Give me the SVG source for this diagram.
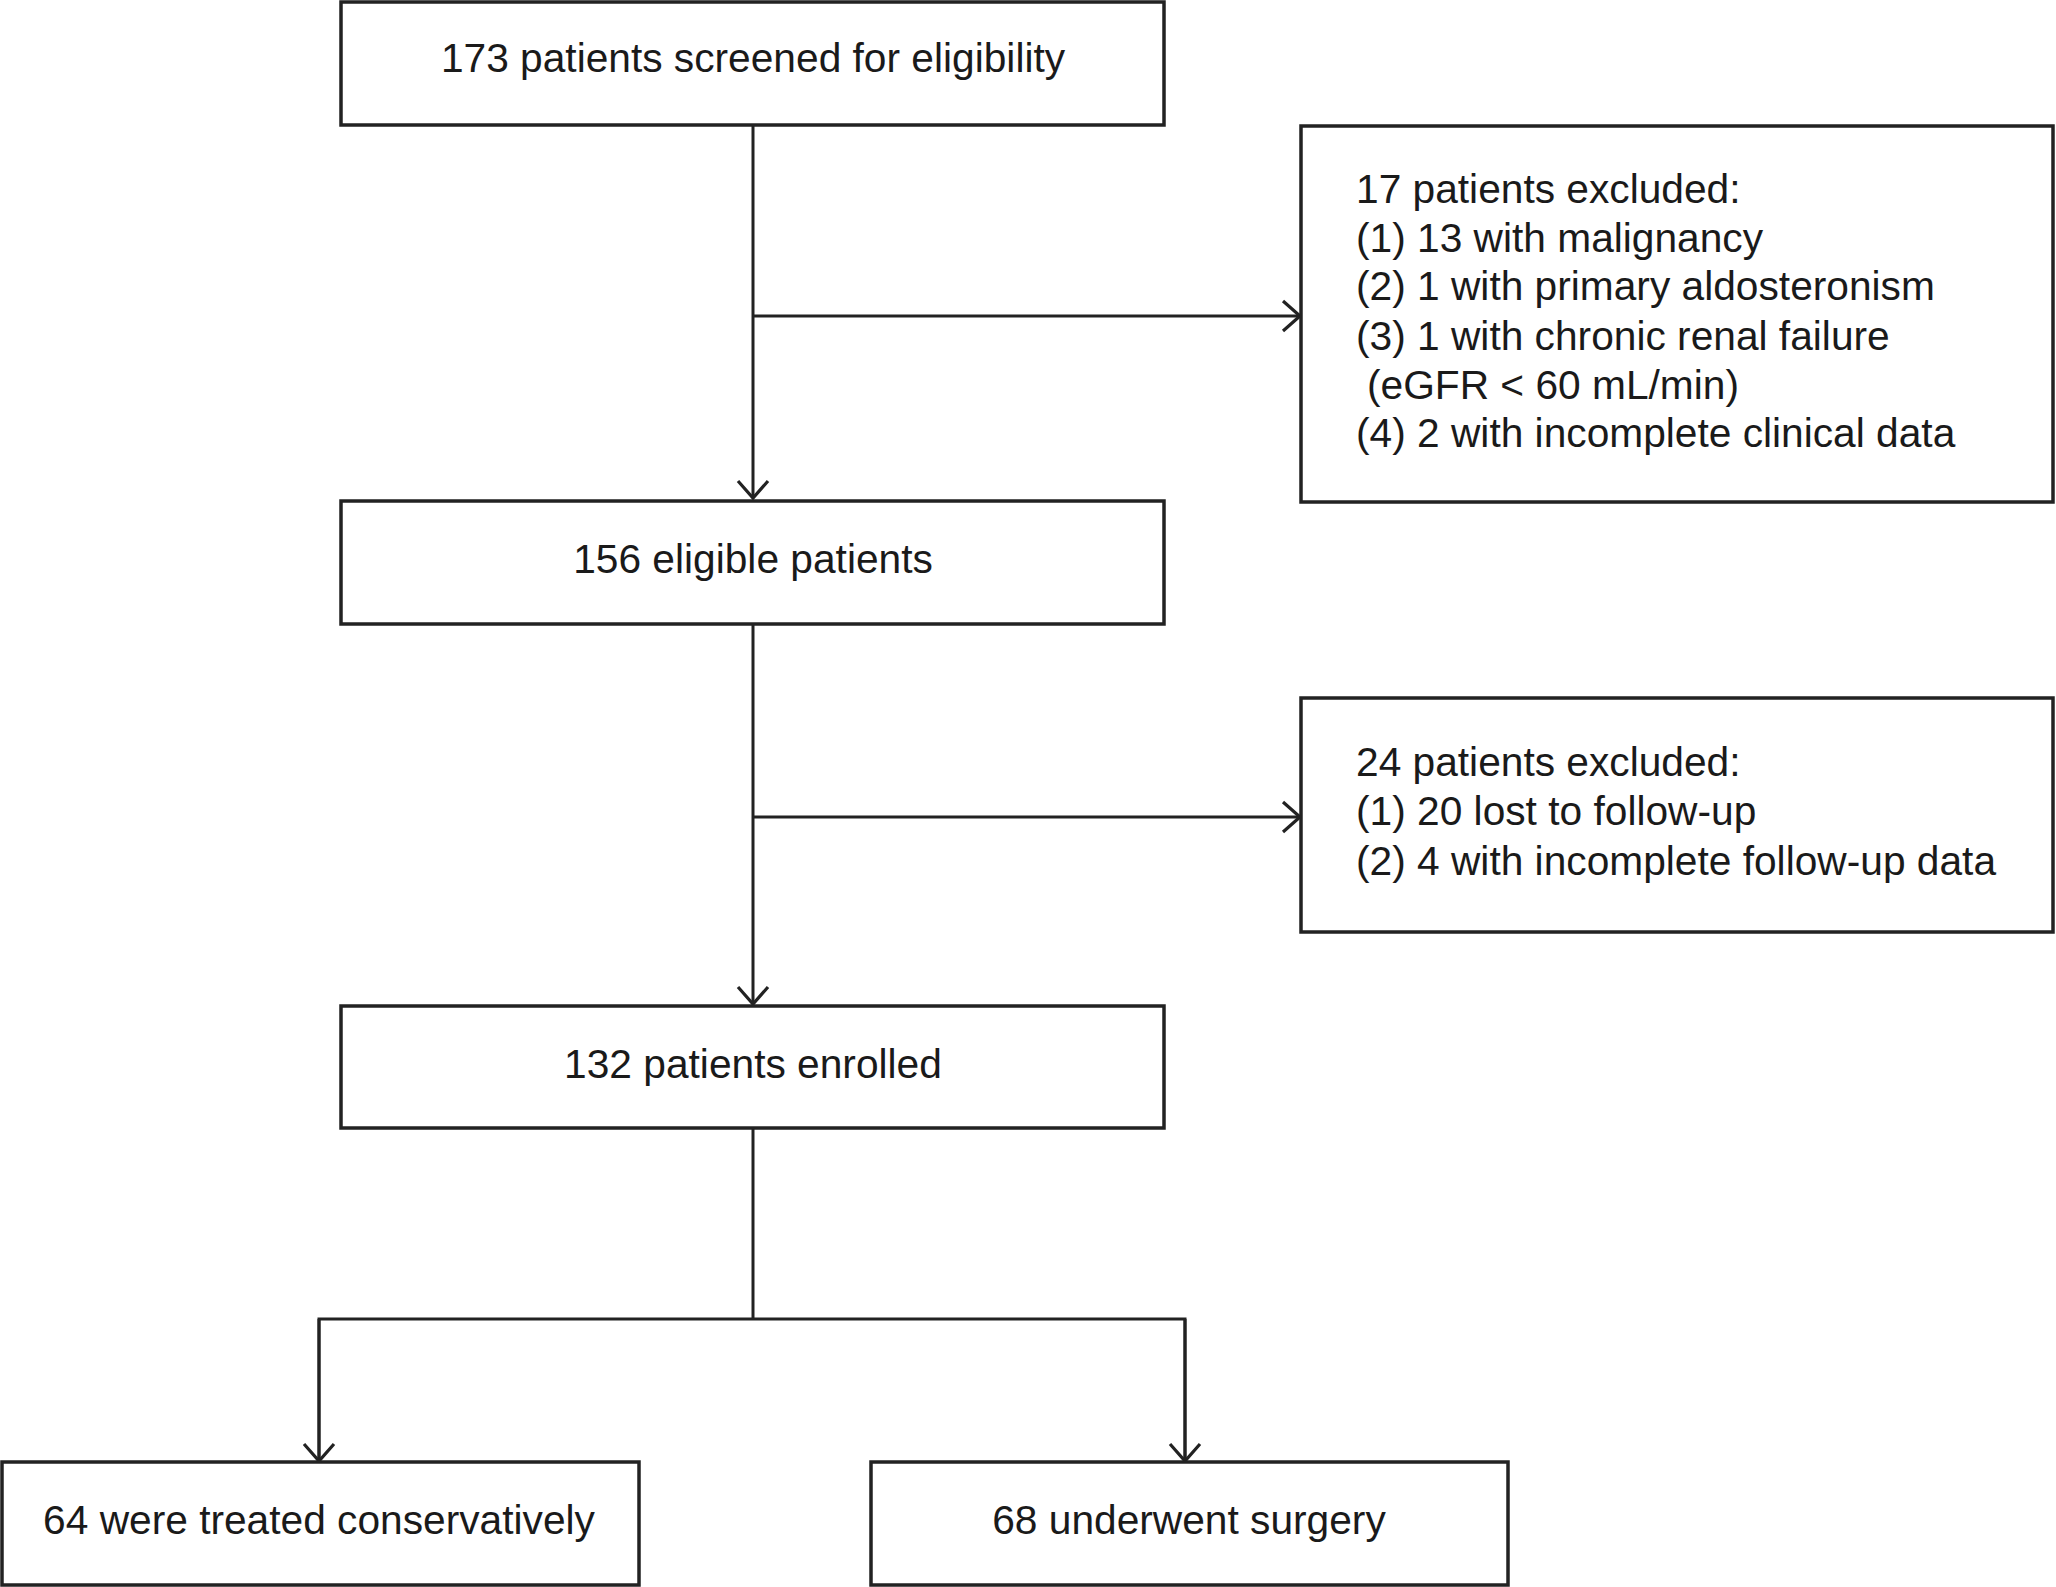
<svg xmlns="http://www.w3.org/2000/svg" width="2056" height="1587" viewBox="0 0 2056 1587">
<style>
.box{fill:#fff;stroke:#222;stroke-width:3.5}
.t{font-family:"Liberation Sans",Arial,sans-serif;font-size:40.7px;fill:#1a1a1a}
.c{text-anchor:middle}
.ln{fill:none;stroke:#222;stroke-width:3}
</style>
<defs>
<marker id="ah" markerUnits="userSpaceOnUse" markerWidth="40" markerHeight="40" viewBox="-20 -20 40 40" refX="0" refY="0" orient="auto">
<polyline points="-17,-15 0,0 -17,15" fill="none" stroke="#222" stroke-width="3.2"/>
</marker>
</defs>
<rect width="2056" height="1587" fill="#fff"/>
<g id="connectors">
<line class="ln" x1="753" y1="125" x2="753" y2="498" marker-end="url(#ah)"/>
<line class="ln" x1="753" y1="316" x2="1300" y2="316" marker-end="url(#ah)"/>
<line class="ln" x1="753" y1="624" x2="753" y2="1004" marker-end="url(#ah)"/>
<line class="ln" x1="753" y1="817" x2="1300" y2="817" marker-end="url(#ah)"/>
<line class="ln" x1="753" y1="1128" x2="753" y2="1319"/>
<polyline class="ln" points="319,1461 319,1319 1185,1319 1185,1461"/>
<line class="ln" x1="319" y1="1319" x2="319" y2="1461" marker-end="url(#ah)"/>
<line class="ln" x1="1185" y1="1319" x2="1185" y2="1461" marker-end="url(#ah)"/>
</g>
<g id="n1">
<rect class="box" x="341" y="2" width="823" height="123"/>
<text class="t c" x="753" y="72">173 patients screened for eligibility</text>
</g>
<g id="ex1">
<rect class="box" x="1301" y="126" width="752" height="376"/>
<text class="t" x="1356" y="203">17 patients excluded:</text>
<text class="t" x="1356" y="252">(1) 13 with malignancy</text>
<text class="t" x="1356" y="300">(2) 1 with primary aldosteronism</text>
<text class="t" x="1356" y="350">(3) 1 with chronic renal failure</text>
<text class="t" x="1367" y="399">(eGFR &lt; 60 mL/min)</text>
<text class="t" x="1356" y="447">(4) 2 with incomplete clinical data</text>
</g>
<g id="n2">
<rect class="box" x="341" y="501" width="823" height="123"/>
<text class="t c" x="753" y="573">156 eligible patients</text>
</g>
<g id="ex2">
<rect class="box" x="1301" y="698" width="752" height="234"/>
<text class="t" x="1356" y="776">24 patients excluded:</text>
<text class="t" x="1356" y="825">(1) 20 lost to follow-up</text>
<text class="t" x="1356" y="875">(2) 4 with incomplete follow-up data</text>
</g>
<g id="n3">
<rect class="box" x="341" y="1006" width="823" height="122"/>
<text class="t c" x="753" y="1078">132 patients enrolled</text>
</g>
<g id="n4">
<rect class="box" x="2" y="1462" width="637" height="123"/>
<text class="t c" x="319" y="1534">64 were treated conservatively</text>
</g>
<g id="n5">
<rect class="box" x="871" y="1462" width="637" height="123"/>
<text class="t c" x="1189" y="1534">68 underwent surgery</text>
</g>
</svg>
